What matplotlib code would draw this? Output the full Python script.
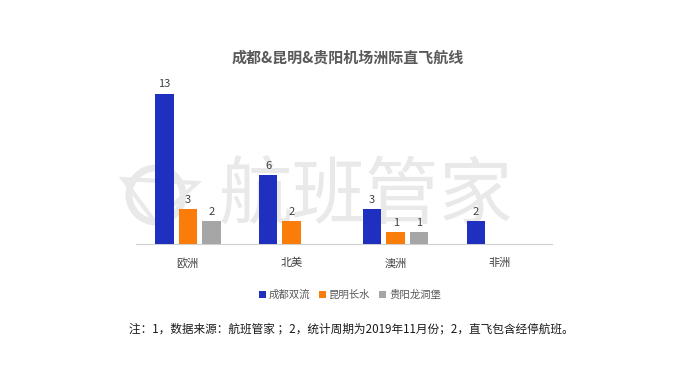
import matplotlib
matplotlib.use("Agg")
import matplotlib.pyplot as plt
import numpy as np
from matplotlib.patches import Ellipse, Polygon

plt.rcParams['font.family'] = ['Noto Sans CJK SC', 'DejaVu Sans']

categories = ['欧洲', '北美', '澳洲', '非洲']
series_names = ['成都双流', '昆明长水', '贵阳龙洞堡']
chengdu = [13, 6, 3, 2]
kunming = [3, 2, 1, 0]
guiyang = [2, 0, 1, 0]
colors = ['#1F2FBF', '#FA7D0A', '#A6A6A6']

W, H = 700, 376
fig = plt.figure(figsize=(7, 3.76), dpi=100)
ax = fig.add_axes([0.194, 0.351, 0.594, 0.431])

# watermark (behind the bars)
wm = '#E9E9E9'
ax.text(366 / W, 1 - 197 / H, '航班管家', fontsize=53, color=wm, ha='center', va='center',
        transform=fig.transFigure, zorder=1, clip_on=False)
ax.add_patch(Ellipse((156 / W, 1 - 195 / H), 54 / W, 54 / H, transform=fig.transFigure,
                     facecolor='none', edgecolor=wm, lw=5, zorder=1, clip_on=False))
ax.add_patch(Polygon([(123 / W, 1 - 179 / H), (197 / W, 1 - 183 / H), (155 / W, 1 - 222 / H)],
                     closed=True, transform=fig.transFigure, facecolor='none', edgecolor=wm,
                     lw=3, zorder=1, clip_on=False))

x = np.arange(len(categories))
pitch = 0.226
width = 0.178
for i, (vals, name, c) in enumerate(zip([chengdu, kunming, guiyang], series_names, colors)):
    pos = x + (i - 1) * pitch
    ax.bar(pos, vals, width, color=c, label=name, zorder=3)
    for xp, v in zip(pos, vals):
        if v > 0:
            ax.text(xp, v + 0.35, str(v), ha='center', va='bottom', fontsize=8,
                    color='#404040', zorder=4)

ax.set_xlim(-0.5, len(categories) - 0.5)
ax.set_ylim(0, 14)
ax.set_xticks(x)
ax.set_xticklabels(categories, fontsize=8, color='#404040')
ax.set_yticks([])
ax.tick_params(axis='x', length=0, pad=10)
for s in ['top', 'right', 'left']:
    ax.spines[s].set_visible(False)
ax.spines['bottom'].set_color('#D0D0D0')
ax.patch.set_alpha(0)

fig.text(0.497, 0.848, '成都&昆明&贵阳机场洲际直飞航线', ha='center', va='center',
         fontsize=10.8, fontweight='bold', color='#595959')

leg = fig.legend(loc='center', bbox_to_anchor=(0.5, 0.215), ncol=3, frameon=False,
                 fontsize=7.5, handlelength=0.7, handleheight=0.7, handletextpad=0.3,
                 columnspacing=0.8)
for t in leg.get_texts():
    t.set_color('#595959')

fig.text(0.502, 0.125, '注：1，数据来源：航班管家 ；2，统计周期为2019年11月份；2，直飞包含经停航班。',
         ha='center', va='center', fontsize=8.4, color='#1A1A1A')

fig.savefig('out.png', dpi=100, facecolor='white')
